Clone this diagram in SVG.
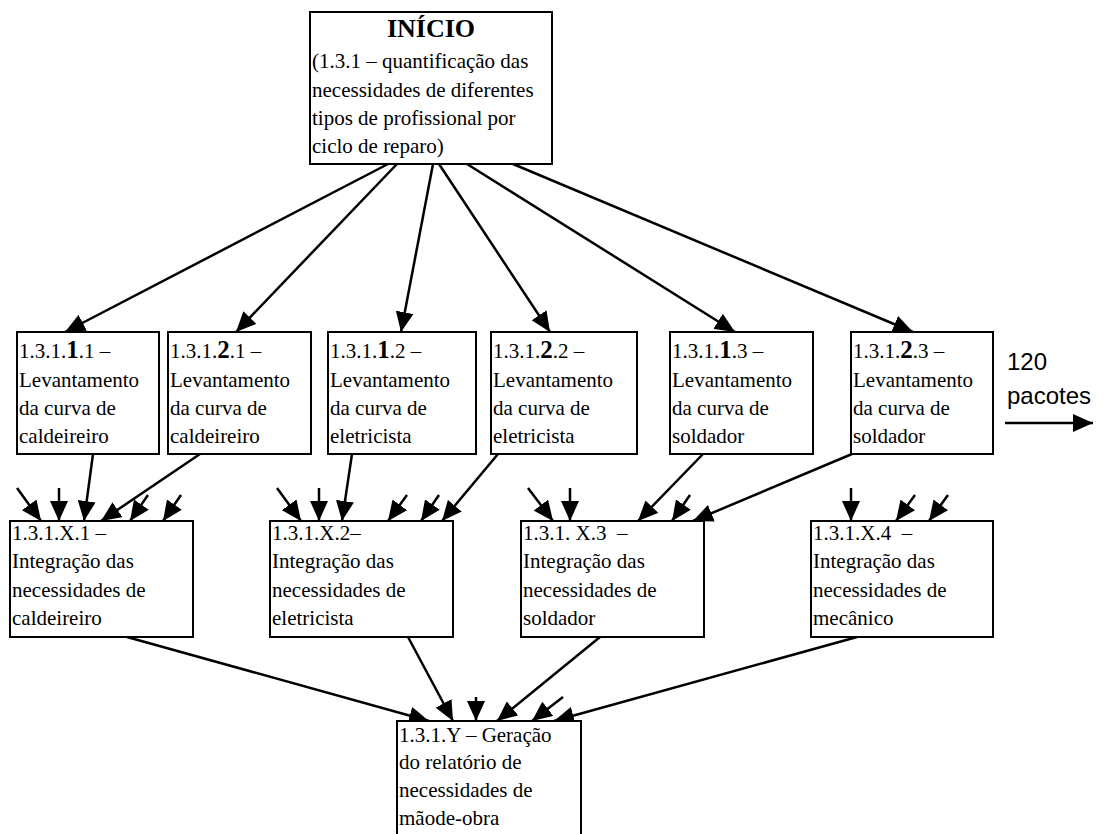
<svg xmlns="http://www.w3.org/2000/svg" width="1106" height="834" viewBox="0 0 1106 834">
  <style>
    .box { fill: #ffffff; stroke: #000000; stroke-width: 2; }
    .t { font-family: 'Liberation Serif', 'DejaVu Serif', serif; font-size: 21px; fill: #000000; }
    .big { font-weight: bold; font-size: 25px; }
    .title { font-family: 'Liberation Serif', 'DejaVu Serif', serif; font-size: 26px; font-weight: bold; fill: #000000; }
    .sans { font-family: 'Liberation Sans', 'DejaVu Sans', sans-serif; font-size: 24px; fill: #000000; }
    .c { stroke: #000000; stroke-width: 2.5; fill: none; marker-end: url(#head); }
  </style>
  <defs>
    <marker id="head" markerUnits="userSpaceOnUse" viewBox="0 0 20 18" markerWidth="20" markerHeight="18" refX="20" refY="9" orient="auto">
      <path d="M0,0 L20,9 L0,18 Z" fill="#000000"/>
    </marker>
  </defs>

  <rect x="0" y="0" width="1106" height="834" fill="#ffffff"/>

  <!-- connectors -->
  <g id="connectors">
    <!-- start node to survey tasks -->
    <line class="c" x1="388" y1="164" x2="65" y2="332"/>
    <line class="c" x1="397" y1="164" x2="236" y2="332"/>
    <line class="c" x1="433" y1="164" x2="401" y2="332"/>
    <line class="c" x1="439" y1="164" x2="550" y2="332"/>
    <line class="c" x1="467" y1="164" x2="735" y2="332"/>
    <line class="c" x1="513" y1="164" x2="913" y2="332"/>

    <!-- survey tasks to integration tasks -->
    <line class="c" x1="93" y1="454" x2="84" y2="521"/>
    <line class="c" x1="200" y1="454" x2="101" y2="521"/>
    <line class="c" x1="352" y1="454" x2="342" y2="521"/>
    <line class="c" x1="498" y1="454" x2="442" y2="521"/>
    <line class="c" x1="703" y1="454" x2="638" y2="521"/>
    <line class="c" x1="852" y1="454" x2="693" y2="521"/>

    <!-- incoming stubs above 1.3.1.X.1 -->
    <line class="c" x1="17" y1="488" x2="41" y2="521"/>
    <line class="c" x1="59" y1="488" x2="59" y2="521"/>
    <line class="c" x1="148" y1="495" x2="130" y2="521"/>
    <line class="c" x1="181" y1="495" x2="163" y2="521"/>

    <!-- incoming stubs above 1.3.1.X.2 -->
    <line class="c" x1="277" y1="488" x2="301" y2="521"/>
    <line class="c" x1="319" y1="488" x2="319" y2="521"/>
    <line class="c" x1="407" y1="495" x2="388" y2="521"/>
    <line class="c" x1="439" y1="495" x2="421" y2="521"/>

    <!-- incoming stubs above 1.3.1.X.3 -->
    <line class="c" x1="528" y1="488" x2="553" y2="521"/>
    <line class="c" x1="570" y1="488" x2="570" y2="521"/>
    <line class="c" x1="690" y1="495" x2="672" y2="521"/>

    <!-- incoming stubs above 1.3.1.X.4 -->
    <line class="c" x1="851" y1="488" x2="851" y2="521"/>
    <line class="c" x1="915" y1="495" x2="896" y2="521"/>
    <line class="c" x1="948" y1="495" x2="929" y2="521"/>

    <!-- integration tasks to report -->
    <line class="c" x1="127" y1="637" x2="429" y2="721"/>
    <line class="c" x1="408" y1="637" x2="453" y2="721"/>
    <line class="c" x1="476" y1="697" x2="476" y2="721"/>
    <line class="c" x1="600" y1="637" x2="497" y2="721"/>
    <line class="c" x1="563" y1="697" x2="532" y2="721"/>
    <line class="c" x1="857" y1="637" x2="554" y2="721"/>

    <!-- continuation arrow -->
    <line class="c" x1="1005" y1="423" x2="1093" y2="423"/>
  </g>

  <!-- start node -->
  <g id="inicio">
    <rect class="box" x="310" y="12" width="242" height="152"/>
    <text class="title" x="431" y="37" text-anchor="middle">INÍCIO</text>
    <text class="t" x="312" y="68">(1.3.1 – quantificação das</text>
    <text class="t" x="312" y="97">necessidades de diferentes</text>
    <text class="t" x="312" y="125">tipos de profissional por</text>
    <text class="t" x="312" y="153">ciclo de reparo)</text>
  </g>

  <!-- survey tasks -->
  <g id="lev-1-1">
    <rect class="box" x="17" y="332" width="142" height="122"/>
    <text class="t" x="19" y="358">1.3.1.<tspan class="big">1</tspan>.1 –</text>
    <text class="t" x="19" y="387">Levantamento</text>
    <text class="t" x="19" y="415">da curva de</text>
    <text class="t" x="19" y="443">caldeireiro</text>
  </g>
  <g id="lev-2-1">
    <rect class="box" x="168" y="332" width="143" height="122"/>
    <text class="t" x="170" y="358">1.3.1.<tspan class="big">2</tspan>.1 –</text>
    <text class="t" x="170" y="387">Levantamento</text>
    <text class="t" x="170" y="415">da curva de</text>
    <text class="t" x="170" y="443">caldeireiro</text>
  </g>
  <g id="lev-1-2">
    <rect class="box" x="328" y="332" width="148" height="122"/>
    <text class="t" x="330" y="358">1.3.1.<tspan class="big">1</tspan>.2 –</text>
    <text class="t" x="330" y="387">Levantamento</text>
    <text class="t" x="330" y="415">da curva de</text>
    <text class="t" x="330" y="443">eletricista</text>
  </g>
  <g id="lev-2-2">
    <rect class="box" x="491" y="332" width="146" height="122"/>
    <text class="t" x="493" y="358">1.3.1.<tspan class="big">2</tspan>.2 –</text>
    <text class="t" x="493" y="387">Levantamento</text>
    <text class="t" x="493" y="415">da curva de</text>
    <text class="t" x="493" y="443">eletricista</text>
  </g>
  <g id="lev-1-3">
    <rect class="box" x="670" y="332" width="143" height="122"/>
    <text class="t" x="672" y="358">1.3.1.<tspan class="big">1</tspan>.3 –</text>
    <text class="t" x="672" y="387">Levantamento</text>
    <text class="t" x="672" y="415">da curva de</text>
    <text class="t" x="672" y="443">soldador</text>
  </g>
  <g id="lev-2-3">
    <rect class="box" x="851" y="332" width="142" height="122"/>
    <text class="t" x="853" y="358">1.3.1.<tspan class="big">2</tspan>.3 –</text>
    <text class="t" x="853" y="387">Levantamento</text>
    <text class="t" x="853" y="415">da curva de</text>
    <text class="t" x="853" y="443">soldador</text>
  </g>

  <!-- continuation label -->
  <g id="pacotes">
    <text class="sans" x="1007" y="370">120</text>
    <text class="sans" x="1007" y="404">pacotes</text>
  </g>

  <!-- integration tasks -->
  <g id="int-1">
    <rect class="box" x="10" y="521" width="183" height="116"/>
    <text class="t" x="12" y="540">1.3.1.X.1 –</text>
    <text class="t" x="12" y="568">Integração das</text>
    <text class="t" x="12" y="597">necessidades de</text>
    <text class="t" x="12" y="625">caldeireiro</text>
  </g>
  <g id="int-2">
    <rect class="box" x="270" y="521" width="183" height="116"/>
    <text class="t" x="272" y="540">1.3.1.X.2–</text>
    <text class="t" x="272" y="568">Integração das</text>
    <text class="t" x="272" y="597">necessidades de</text>
    <text class="t" x="272" y="625">eletricista</text>
  </g>
  <g id="int-3">
    <rect class="box" x="521" y="521" width="183" height="116"/>
    <text class="t" x="523" y="540" xml:space="preserve">1.3.1. X.3  –</text>
    <text class="t" x="523" y="568">Integração das</text>
    <text class="t" x="523" y="597">necessidades de</text>
    <text class="t" x="523" y="625">soldador</text>
  </g>
  <g id="int-4">
    <rect class="box" x="811" y="521" width="182" height="116"/>
    <text class="t" x="813" y="540" xml:space="preserve">1.3.1.X.4  –</text>
    <text class="t" x="813" y="568">Integração das</text>
    <text class="t" x="813" y="597">necessidades de</text>
    <text class="t" x="813" y="625">mecânico</text>
  </g>

  <!-- final report -->
  <g id="relatorio">
    <rect class="box" x="397" y="721" width="184" height="130"/>
    <text class="t" x="399" y="742">1.3.1.Y – Geração</text>
    <text class="t" x="399" y="769">do relatório de</text>
    <text class="t" x="399" y="797">necessidades de</text>
    <text class="t" x="399" y="825">mãode-obra</text>
  </g>
</svg>
